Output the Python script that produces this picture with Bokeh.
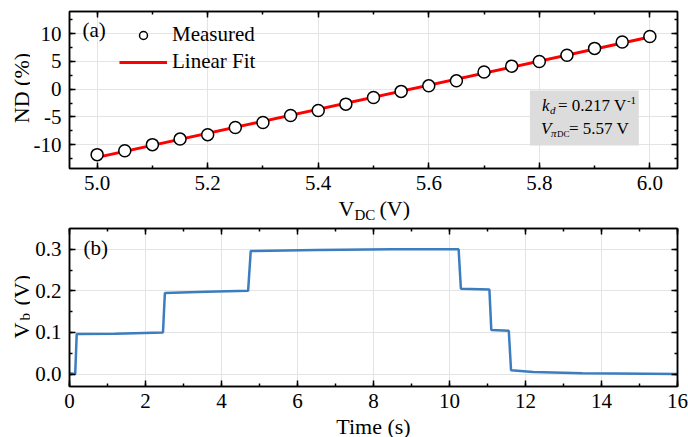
from math import pi
from bokeh.plotting import figure
from bokeh.models import (LinearAxis, SingleIntervalTicker, Legend, LegendItem,
                          Label, BoxAnnotation, Range1d, PrintfTickFormatter)
from bokeh.layouts import column, row
from bokeh.embed import file_html
from bokeh.resources import INLINE

FONT = "Liberation Serif"

# ---------------- panel (a) data ----------------
v_dc = [5.00, 5.05, 5.10, 5.15, 5.20, 5.25, 5.30, 5.35, 5.40, 5.45, 5.50,
        5.55, 5.60, 5.65, 5.70, 5.75, 5.80, 5.85, 5.90, 5.95, 6.00]
nd_measured = [-11.8, -11.1, -10.0, -9.0, -8.2, -6.9, -6.0, -4.75, -3.85, -2.7, -1.5,
               -0.4, 0.6, 1.5, 3.1, 4.15, 5.0, 6.1, 7.35, 8.5, 9.5]
fit_v = [5.0, 6.0]
fit_nd = [-12.3, 9.4]

# ---------------- panel (b) data ----------------
time_s = [0.0, 0.15, 0.19, 1.2, 2.46, 2.51, 3.6, 4.70, 4.77, 6.5, 8.5, 10.24,
          10.30, 11.05, 11.10, 11.56, 11.62, 12.2, 13.5, 16.0]
vb = [0.002, 0.000, 0.096, 0.097, 0.100, 0.195, 0.198, 0.200, 0.296, 0.298, 0.300, 0.300,
      0.205, 0.203, 0.106, 0.104, 0.009, 0.005, 0.002, 0.000]


def make_fig(xr, yr, b_top, frame_h, b_bottom):
    return figure(frame_width=608, frame_height=frame_h,
                  x_range=Range1d(*xr), y_range=Range1d(*yr),
                  output_backend="svg", toolbar_location=None, tools="",
                  min_border_left=39, min_border_right=11,
                  min_border_top=b_top, min_border_bottom=b_bottom,
                  background_fill_color="white", border_fill_color="white",
                  outline_line_color="black", outline_line_width=1.5)


def helper(w, h, y_range=None, b_top=0, b_bottom=0):
    """Blank canvas (no axes, no title) that carries axis titles outside the frames."""
    p = figure(width=w, height=h, title=None,
               x_range=Range1d(0, w),
               y_range=y_range if y_range is not None else Range1d(0, h),
               x_axis_type=None, y_axis_type=None,
               output_backend="svg", toolbar_location=None, tools="",
               min_border_left=0, min_border_right=0,
               min_border_top=b_top, min_border_bottom=b_bottom,
               background_fill_color="white", border_fill_color="white",
               outline_line_color=None)
    p.grid.visible = False
    return p


def dress(p, xstep, ystep, xfmt, yfmt):
    xt = SingleIntervalTicker(interval=xstep, num_minor_ticks=2)
    yt = SingleIntervalTicker(interval=ystep, num_minor_ticks=2)
    p.add_layout(LinearAxis(), "above")
    p.add_layout(LinearAxis(), "right")
    for ax in p.xaxis:
        ax.ticker = xt
    for ax in p.yaxis:
        ax.ticker = yt
    for ax in p.axis:
        ax.axis_line_color = "black"
        ax.axis_line_width = 1.5
        ax.major_tick_in = 6
        ax.major_tick_out = 0
        ax.minor_tick_in = 3
        ax.minor_tick_out = 0
        ax.major_tick_line_color = "black"
        ax.major_tick_line_width = 1.5
        ax.minor_tick_line_color = "black"
        ax.minor_tick_line_width = 1.5
        ax.major_label_text_font = FONT
        ax.major_label_text_font_size = "21px"
        ax.major_label_text_color = "black"
    p.below[0].major_label_standoff = 7
    p.left[0].major_label_standoff = 8
    for ax in (p.above[0], p.right[0]):
        ax.major_label_text_font_size = "1px"
        ax.major_label_text_color = None
        ax.major_label_standoff = 0
    p.below[0].formatter = PrintfTickFormatter(format=xfmt)
    p.left[0].formatter = PrintfTickFormatter(format=yfmt)
    p.xgrid.grid_line_color = "#e4e4e4"
    p.ygrid.grid_line_color = "#e4e4e4"
    p.xgrid.grid_line_width = 1
    p.ygrid.grid_line_width = 1


def lab(p, x, y, text, dx=0, dy=0, size="22px", style="normal", align="left",
        angle=0.0):
    # anchored at the vertical middle of the text
    p.add_layout(Label(x=x, y=y, x_offset=dx, y_offset=dy, text=text,
                       text_font=FONT, text_font_size=size, text_font_style=style,
                       text_align=align, text_baseline="middle", angle=angle,
                       text_color="black"))


# ================= panel (a) =================
XA = (4.95, 6.05)
YA = (-14.3, 14.0)
p1 = make_fig(XA, YA, 11, 157, 28)
dress(p1, 0.2, 5, "%.1f", "%d")

fit_r = p1.line(fit_v, fit_nd, line_color="#ff0000", line_width=3)
meas_r = p1.scatter(v_dc, nd_measured, marker="circle", size=12,
                    fill_color="white", line_color="black", line_width=1.5)

legend = Legend(items=[LegendItem(label="Measured", renderers=[meas_r]),
                       LegendItem(label="Linear Fit", renderers=[fit_r])],
                location=(50, 94), glyph_width=48, glyph_height=20,
                label_height=20, spacing=2, label_standoff=5,
                padding=0, margin=0, border_line_color=None,
                background_fill_alpha=0, label_text_font=FONT,
                label_text_font_size="21px", label_text_color="black")
p1.add_layout(legend)

# panel tag
lab(p1, XA[0], YA[1], "(a)", dx=13, dy=-18, size="21px")

# stats box
bx0, by0 = 5.783, -0.23
p1.add_layout(BoxAnnotation(left=bx0, right=5.98, top=by0, bottom=-10.16,
                            fill_color="#dcdcdc", fill_alpha=1.0,
                            line_color=None))
lab(p1, bx0, by0, "k", dx=12, dy=-15, size="17px", style="italic")
lab(p1, bx0, by0, "d", dx=20, dy=-19.7, size="11px", style="italic")
lab(p1, bx0, by0, "= 0.217 V", dx=28, dy=-15, size="17px")
lab(p1, bx0, by0, "-1", dx=97, dy=-9.7, size="11px")
lab(p1, bx0, by0, "V", dx=11, dy=-38, size="17px", style="italic")
lab(p1, bx0, by0, "\u03c0", dx=21, dy=-42.7, size="11px", style="italic")
lab(p1, bx0, by0, "DC", dx=27, dy=-43.3, size="9px")
lab(p1, bx0, by0, "= 5.57 V", dx=39, dy=-38, size="17px")

# title helpers for panel (a): left strip shares the y-range of panel (a)
ha = helper(30, 196, y_range=p1.y_range, b_top=11, b_bottom=28)
lab(ha, 21, 0.2, "ND (%)", angle=pi / 2, align="center")

h1 = helper(688, 30)
lab(h1, 338, 17.6, "V")
lab(h1, 354, 12, "DC", size="15px")
lab(h1, 379, 17.6, "(V)")

# ================= panel (b) =================
XB = (0, 16)
YB = (-0.03, 0.35)
p2 = make_fig(XB, YB, 2, 158, 30)
dress(p2, 2, 0.1, "%d", "%.1f")

p2.line(time_s, vb, line_color="#3b7dbf", line_width=2.5)

lab(p2, XB[0], YB[1], "(b)", dx=14, dy=-19.5, size="21px")

# left strip shares the y-range of panel (b)
hb = helper(30, 190, y_range=p2.y_range, b_top=2, b_bottom=30)
lab(hb, 21, 0.0854, "V", angle=pi / 2)
lab(hb, 24, 0.1287, "b", size="15px", angle=pi / 2)
lab(hb, 21, 0.1647, "(V)", angle=pi / 2)

h2 = helper(688, 21)
lab(h2, 373, 11, "Time (s)", align="center")

layout = column(row(ha, p1), h1, row(hb, p2), h2)
open("out.html", "w").write(file_html(layout, INLINE))
